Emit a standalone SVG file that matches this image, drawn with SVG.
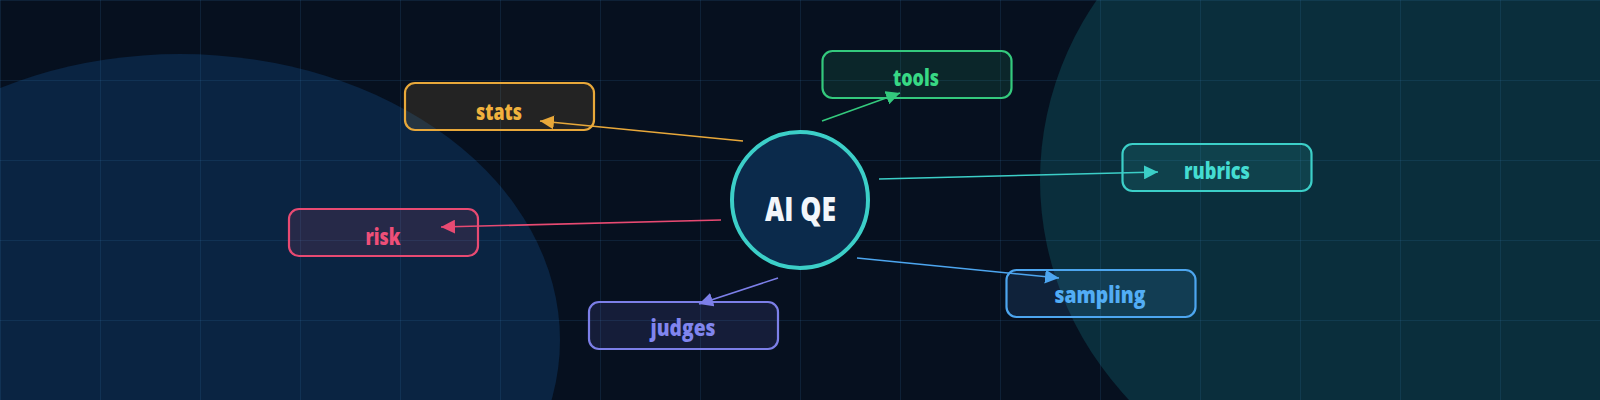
<svg xmlns="http://www.w3.org/2000/svg" width="1600" height="400" viewBox="0 0 1600 400">
<defs>
<style>
.lbl{font-family:"Open Sans","Liberation Sans",sans-serif;font-weight:800;font-size:23px;text-anchor:middle}
.box{stroke-width:2.2}
.edge{fill:none;stroke-width:1.6}
</style>
<pattern id="grid" width="100" height="80" patternUnits="userSpaceOnUse">
<path d="M0.5 0V80M0 0.5H100" fill="none" stroke="#3a7ab8" stroke-opacity="0.16" stroke-width="1"/>
</pattern>
<marker id="mStats" markerUnits="userSpaceOnUse" markerWidth="14" markerHeight="14" refX="14" refY="7" orient="auto"><path d="M0,0L14,7L0,14z" fill="#e8a83a"/></marker>
<marker id="mTools" markerUnits="userSpaceOnUse" markerWidth="14" markerHeight="14" refX="14" refY="7" orient="auto"><path d="M0,0L14,7L0,14z" fill="#34c97d"/></marker>
<marker id="mRubrics" markerUnits="userSpaceOnUse" markerWidth="14" markerHeight="14" refX="14" refY="7" orient="auto"><path d="M0,0L14,7L0,14z" fill="#3ccfc8"/></marker>
<marker id="mRisk" markerUnits="userSpaceOnUse" markerWidth="14" markerHeight="14" refX="14" refY="7" orient="auto"><path d="M0,0L14,7L0,14z" fill="#e84a72"/></marker>
<marker id="mJudges" markerUnits="userSpaceOnUse" markerWidth="14" markerHeight="14" refX="14" refY="7" orient="auto"><path d="M0,0L14,7L0,14z" fill="#7c7fe8"/></marker>
<marker id="mSampling" markerUnits="userSpaceOnUse" markerWidth="14" markerHeight="14" refX="14" refY="7" orient="auto"><path d="M0,0L14,7L0,14z" fill="#4da6ef"/></marker>
</defs>
<g id="background">
<rect width="1600" height="400" fill="#06101f"/>
<ellipse cx="180" cy="340" rx="380" ry="286" fill="#0a2442"/>
<ellipse cx="1402" cy="180" rx="362" ry="335" fill="#0a2e3c"/>
<rect width="1600" height="400" fill="url(#grid)"/>
</g>
<g id="connectors">
<line class="edge" x1="743" y1="141" x2="540" y2="121" stroke="#e8a83a" marker-end="url(#mStats)"/>
<line class="edge" x1="822" y1="121" x2="900" y2="93" stroke="#34c97d" marker-end="url(#mTools)"/>
<line class="edge" x1="879" y1="179" x2="1158" y2="172" stroke="#3ccfc8" marker-end="url(#mRubrics)"/>
<line class="edge" x1="721" y1="220" x2="441" y2="227" stroke="#e84a72" marker-end="url(#mRisk)"/>
<line class="edge" x1="778" y1="278" x2="699" y2="304" stroke="#7c7fe8" marker-end="url(#mJudges)"/>
<line class="edge" x1="857" y1="258" x2="1059" y2="278" stroke="#4da6ef" marker-end="url(#mSampling)"/>
</g>
<g id="node-center">
<circle cx="800" cy="200" r="68" fill="#0b2a4b" stroke="#3ccfc8" stroke-width="4"/>
<text x="800.5" y="221" font-family="Open Sans, Liberation Sans, sans-serif" font-weight="800" font-size="33" text-anchor="middle" fill="#f2f6fb" textLength="71" lengthAdjust="spacingAndGlyphs">AI QE</text>
</g>
<g id="node-stats">
<rect class="box" x="405" y="83" width="189" height="47" rx="10" fill="#e8a83a" fill-opacity="0.13" stroke="#e8a83a"/>
<text class="lbl" x="499" y="119.5" fill="#f0b23e" textLength="46" lengthAdjust="spacingAndGlyphs">stats</text>
</g>
<g id="node-tools">
<rect class="box" x="822.5" y="51" width="189" height="47" rx="10" fill="#34c97d" fill-opacity="0.12" stroke="#34c97d"/>
<text class="lbl" x="916" y="86" fill="#38d884" textLength="46" lengthAdjust="spacingAndGlyphs">tools</text>
</g>
<g id="node-rubrics">
<rect class="box" x="1122.5" y="144" width="189" height="47" rx="10" fill="#3ccfc8" fill-opacity="0.12" stroke="#3ccfc8"/>
<text class="lbl" x="1217" y="179" fill="#44dcd2" textLength="66" lengthAdjust="spacingAndGlyphs">rubrics</text>
</g>
<g id="node-risk">
<rect class="box" x="289" y="209" width="189" height="47" rx="10" fill="#e84a72" fill-opacity="0.13" stroke="#e84a72"/>
<text class="lbl" x="383" y="245" fill="#ee4f78" textLength="35" lengthAdjust="spacingAndGlyphs">risk</text>
</g>
<g id="node-judges">
<rect class="box" x="589" y="302" width="189" height="47" rx="10" fill="#7c7fe8" fill-opacity="0.13" stroke="#7c7fe8"/>
<text class="lbl" x="683" y="336" fill="#8085ee" textLength="65" lengthAdjust="spacingAndGlyphs">judges</text>
</g>
<g id="node-sampling">
<rect class="box" x="1006.5" y="270" width="189" height="47" rx="10" fill="#4da6ef" fill-opacity="0.13" stroke="#4da6ef"/>
<text class="lbl" x="1100" y="302.5" fill="#52adf5" textLength="91" lengthAdjust="spacingAndGlyphs">sampling</text>
</g>
</svg>
